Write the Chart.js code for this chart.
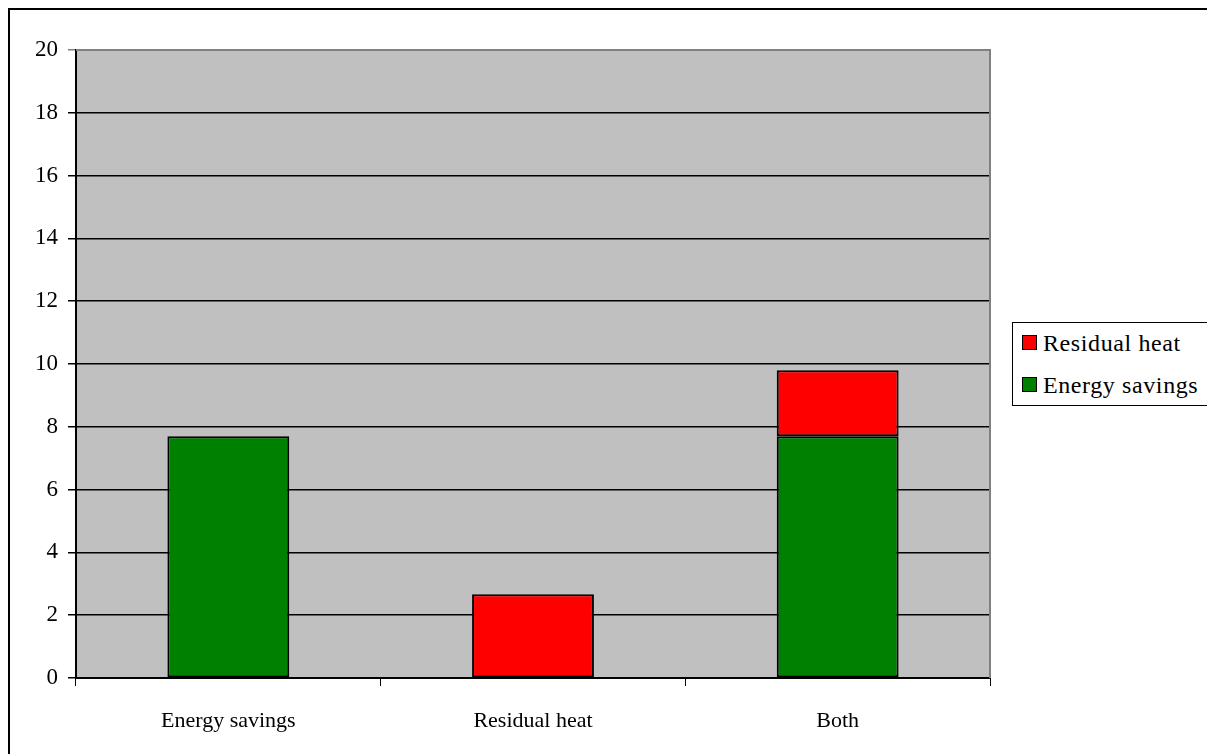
<!DOCTYPE html>
<html lang="en">
<head>
    <meta charset="UTF-8">
    <title>Energy savings and residual heat</title>
    <style>
        body, html {
            margin: 0;
            padding: 0;
            width: 1207px;
            height: 754px;
            overflow: hidden;
            background: #ffffff;
            font-family: "Liberation Serif", "Times New Roman", serif;
        }

        .frame {
            position: absolute;
            left: 8px;
            top: 8px;
            width: 1300px;
            height: 900px;
            border-top: 2px solid #000;
            border-left: 2px solid #000;
        }

        #chart-wrap {
            position: absolute;
            left: 0;
            top: 0;
            width: 1207px;
            height: 754px;
        }

        .legend {
            position: absolute;
            left: 1012px;
            top: 322px;
            width: 220px;
            height: 82px;
            border: 1px solid #000;
            background: #fff;
            font-size: 24px;
            letter-spacing: 0.6px;
            color: #000;
        }

        .legend div {
            position: absolute;
            left: 9px;
            white-space: nowrap;
        }

        .legend span.box {
            display: inline-block;
            width: 13px;
            height: 13px;
            border: 1px solid #000;
            margin-right: 6px;
            vertical-align: 1px;
        }
    </style>
</head>
<body>
    <div class="frame"></div>
    <div id="chart-wrap">
        <canvas id="myChart" width="1207" height="754"></canvas>
    </div>
    <div class="legend" id="legend"></div>

    <script src="https://cdn.jsdelivr.net/npm/chart.js"></script>
    <script>
        // chart data
        const categories = ['Energy savings', 'Residual heat', 'Both'];
        const energySavings = [7.7, null, 7.7];
        const residualHeat = [null, 2.67, 2.1];
        const yTicks = [0, 2, 4, 6, 8, 10, 12, 14, 16, 18, 20];

        const datasets = [
            {
                label: 'Energy savings',
                data: energySavings,
                backgroundColor: '#008000',
                borderColor: '#000',
                borderWidth: 2,
                borderSkipped: false,
                categoryPercentage: 1,
                barPercentage: 0.4
            },
            {
                label: 'Residual heat',
                data: residualHeat,
                backgroundColor: '#ff0000',
                borderColor: '#000',
                borderWidth: 2,
                borderSkipped: false,
                categoryPercentage: 1,
                barPercentage: 0.4
            }
        ];

        // grey plot area with its frame
        const plotBackground = {
            id: 'plotBackground',
            beforeDraw(chart) {
                const { ctx, chartArea: a } = chart;
                ctx.save();
                ctx.fillStyle = '#c0c0c0';
                ctx.fillRect(a.left, a.top, a.right - a.left, a.bottom - a.top);
                ctx.restore();
            },
            afterDatasetsDraw(chart) {
                const { ctx, chartArea: a } = chart;
                ctx.save();
                ctx.strokeStyle = '#808080';
                ctx.lineWidth = 2;
                ctx.beginPath();
                ctx.moveTo(a.left, a.top);
                ctx.lineTo(a.right, a.top);
                ctx.lineTo(a.right, a.bottom);
                ctx.stroke();
                ctx.restore();
            }
        };

        const ctx = document.getElementById('myChart').getContext('2d');
        new Chart(ctx, {
            type: 'bar',
            data: { labels: categories, datasets: datasets },
            plugins: [plotBackground],
            options: {
                responsive: false,
                animation: false,
                layout: { padding: { left: 0, top: 50, right: 217, bottom: 0 } },
                plugins: {
                    legend: { display: false },
                    tooltip: { enabled: false }
                },
                scales: {
                    x: {
                        stacked: true,
                        grid: {
                            offset: true,
                            drawOnChartArea: false,
                            color: '#000',
                            tickLength: 8
                        },
                        border: { color: '#000', width: 2 },
                        ticks: {
                            color: '#000',
                            padding: 22,
                            font: { family: 'Liberation Serif', size: 22 }
                        },
                        afterFit(scale) { scale.height = 76; }
                    },
                    y: {
                        stacked: true,
                        min: 0,
                        max: 20,
                        afterBuildTicks(scale) {
                            scale.ticks = yTicks.map(v => ({ value: v }));
                        },
                        afterFit(scale) { scale.width = 76; },
                        grid: {
                            color: c => c.tick && c.tick.value === 20 ? '#808080' : '#000',
                            lineWidth: 1.5,
                            tickLength: 8
                        },
                        border: { color: '#000', width: 2 },
                        ticks: {
                            color: '#000',
                            padding: 10,
                            font: { family: 'Liberation Serif', size: 23 }
                        }
                    }
                }
            }
        });

        // legend, top series first
        const legend = document.getElementById('legend');
        datasets.slice().reverse().forEach((d, i) => {
            const row = document.createElement('div');
            row.style.top = (i === 0 ? 7 : 49) + 'px';
            row.innerHTML = '<span class="box" style="background:' + d.backgroundColor + '"></span>' + d.label;
            legend.appendChild(row);
        });
    </script>
</body>
</html>
